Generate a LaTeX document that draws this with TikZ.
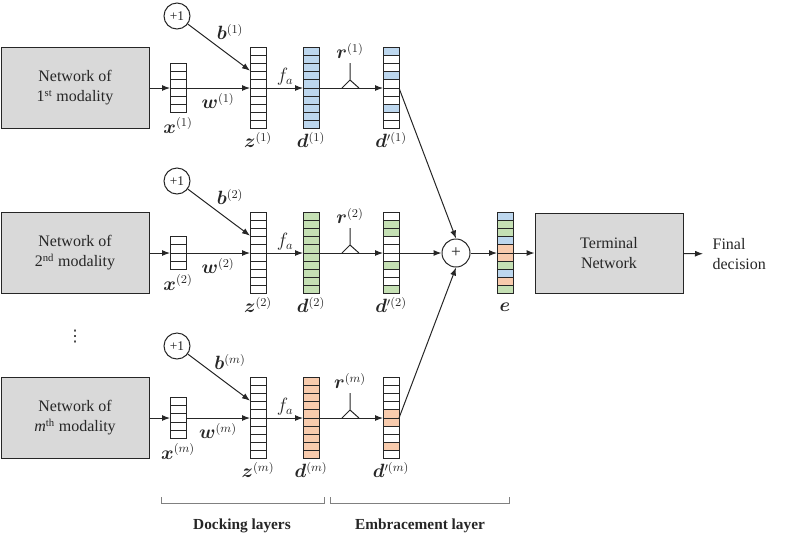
\documentclass[tikz,border=0pt]{standalone}
\usepackage{amsmath,bm}
\usepackage{fontspec}
\setmainfont{Liberation Serif}
\newfontfamily\symfont{DejaVu Sans}
\usetikzlibrary{arrows.meta,calc}
\definecolor{cblue}{HTML}{BDD7EE}
\definecolor{cgreen}{HTML}{C5E0B4}
\definecolor{corange}{HTML}{F8CBAD}
\definecolor{boxgray}{HTML}{D9D9D9}
\definecolor{linec}{HTML}{262626}
\definecolor{brk}{HTML}{808080}
\tikzset{
  vecnode/.style={rectangle, minimum width=12pt, inner sep=0pt, outer sep=0pt},
  netbox/.style={rectangle, draw=linec, line width=0.75pt, fill=boxgray, minimum width=111pt, minimum height=60.75pt, align=center, inner sep=0pt},
  onecirc/.style={circle, draw=linec, line width=0.75pt, minimum size=19.5pt, inner sep=0pt, font=\fontsize{10}{12}\selectfont},
  pluscirc/.style={circle, draw=linec, line width=0.75pt, minimum size=21pt, inner sep=0pt, font=\fontsize{13}{15}\selectfont},
  arr/.style={-{Latex[length=6pt,width=4.5pt]}, draw=linec, line width=0.75pt},
  plainline/.style={draw=linec, line width=0.75pt},
  lbl/.style={inner sep=0pt, font=\fontsize{13.5}{16}\selectfont},
  brace/.style={draw=brk, line width=0.75pt},
  caption/.style={font=\fontsize{11.5}{14}\selectfont\bfseries}
}
\newcommand\cellvec[5]{%
  \node[vecnode, minimum height=#4*6.075pt] (#1) at (#2,#3) {};
  \foreach \cc [count=\ii] in {#5} {
    \filldraw[fill=\cc, draw=linec, line width=0.75pt]
      ([yshift=-(\ii-1)*6.075pt]#1.north west) rectangle ([yshift=-\ii*6.075pt]#1.north east);
  }
}
% #1 id, #2 line y, #3 ordinal, #4 suffix, #5 index, #6 x cells, #7 x colours, #8 d colour, #9 d' colours
\newcommand\modrow[9]{%
  \node[netbox] (net#1) at (75,#2) {Network of\\#3\textsuperscript{#4} modality};
  \cellvec{x#1}{178}{#2}{#6}{#7}
  \cellvec{z#1}{258}{#2}{10}{white,white,white,white,white,white,white,white,white,white}
  \cellvec{d#1}{311}{#2}{10}{#8,#8,#8,#8,#8,#8,#8,#8,#8,#8}
  \cellvec{dp#1}{391}{#2}{10}{#9}
  \node[onecirc] (one#1) at (177,#2-72) {+1};
  \draw[arr] (net#1) -- (x#1);
  \draw[arr] (x#1) -- (z#1);
  \draw[arr] (one#1) -- ([yshift=13pt]z#1.west);
  \draw[arr] (z#1) -- (d#1);
  \draw[arr] (d#1) -- (dp#1);
  \draw[plainline] (350,#2-25) -- (350,#2-8) -- (342,#2) (350,#2-8) -- (359,#2);
  \node[lbl, anchor=north] (xl#1) at ([yshift=-4pt]x#1.south) {$\bm{x}^{(#5)}$};
  \node[lbl] (wl#1) at (218,#2+13) {$\bm{w}^{(#5)}$};
  \node[lbl] (bl#1) at (230,#2-56) {$\bm{b}^{(#5)}$};
  \node[lbl] (fl#1) at (285,#2-11) {$f_a$};
  \node[lbl] (rl#1) at (350,#2-37) {$\bm{r}^{(#5)}$};
  \node[lbl] (zl#1) at (258,#2+52) {$\bm{z}^{(#5)}$};
  \node[lbl] (dl#1) at (311,#2+52) {$\bm{d}^{(#5)}$};
  \node[lbl] (dpl#1) at (391,#2+52) {$\bm{d}'^{(#5)}$};
}
\begin{document}
\begin{tikzpicture}[x=0.75pt, y=-0.75pt, font=\fontsize{12}{15}\selectfont, text=linec]
\useasboundingbox (0,0) rectangle (800,544);

\modrow{1}{88}{1}{st}{1}{6}{white,white,white,white,white,white}{cblue}{cblue,white,white,cblue,white,white,white,cblue,white,white}
\modrow{2}{253}{2}{nd}{2}{4}{white,white,white,white}{cgreen}{white,cgreen,cgreen,white,white,white,cgreen,white,white,cgreen}
\modrow{3}{418}{\textit{m}}{th}{m}{5}{white,white,white,white,white}{corange}{white,white,white,white,corange,corange,white,white,corange,white}

\node[inner sep=0pt, font=\symfont\fontsize{12}{14}\selectfont] (vdots) at (75,337) {⋮};

\node[pluscirc] (plus) at (456,253) {+};
\cellvec{e}{505}{253}{10}{cblue,cgreen,cgreen,cblue,corange,corange,cgreen,cblue,corange,cgreen}
\node[lbl] (el) at (505,307) {$\bm{e}$};
\node[netbox, minimum height=60pt] (term) at (609,253) {Terminal\\Network};
\node[anchor=west, align=left, inner sep=0pt, text depth=0pt] (final) at (703,254) {\hspace*{7pt}Final\\\hspace*{7pt}decision};

\draw[arr] (dp1.east) -- (plus.north);
\draw[arr] (dp2.east) -- (plus.west);
\draw[arr] (dp3.east) -- (plus.south);
\draw[arr] (plus) -- (e);
\draw[arr] (e) -- (term);
\draw[arr] (term) -- (final);

\draw[brace] (161,497) -- (161,503) -- (324,503) -- (324,497);
\draw[brace] (330,497) -- (330,503) -- (509,503) -- (509,497);
\node[caption] (dock) at (242,526) {Docking layers};
\node[caption] (embr) at (420,526) {Embracement layer};
\end{tikzpicture}
\end{document}
